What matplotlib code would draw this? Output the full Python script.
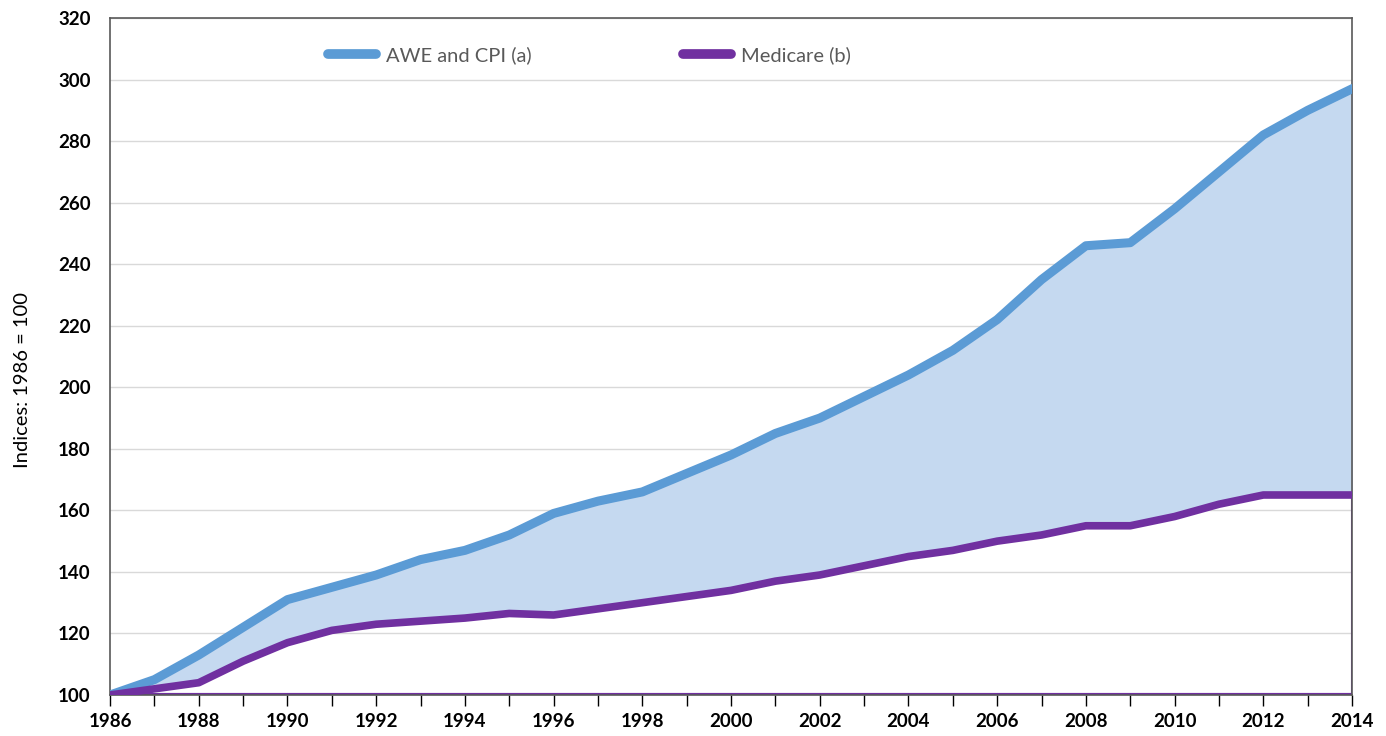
import numpy as np
import matplotlib.pyplot as plt
from matplotlib.ticker import MultipleLocator

plt.rcParams["font.family"] = ["Lato", "DejaVu Sans"]

# 数据
years = list(range(1986, 2015))
awe_cpi = [100, 105, 113, 122, 131, 135, 139, 144, 147, 152, 159, 163, 166, 172, 178,
           185, 190, 197, 204, 212, 222, 235, 246, 247, 258, 270, 282, 290, 297]
medicare = [100, 102, 104, 111, 117, 121, 123, 124, 125, 126.5, 126, 128, 130, 132, 134,
            137, 139, 142, 145, 147, 150, 152, 155, 155, 158, 162, 165, 165, 165]
y_ticks = list(range(100, 321, 20))
x_labels = list(range(1986, 2015, 2))

blue = "#5B9BD5"
purple = "#7030A0"

fig = plt.figure(figsize=(13.86, 7.36), dpi=100)
ax = fig.add_axes([0.0794, 0.0557, 0.8961, 0.9198])

# 面积填充
ax.fill_between(years, medicare, awe_cpi, color="#C5D9F0", zorder=1)

# 底部和右侧的细线
ax.plot([years[-1], years[-1], years[0]], [medicare[-1], 100, 100],
        color=purple, lw=1.5, zorder=2, solid_capstyle="butt")
ax.plot([years[0], years[-1]], [100, 100], color=purple, lw=3, zorder=2)

ax.plot(years, awe_cpi, color=blue, lw=6.5, label="AWE and CPI (a)", zorder=3,
        solid_joinstyle="round")
ax.plot(years, medicare, color=purple, lw=5.5, label="Medicare (b)", zorder=4,
        solid_joinstyle="round")

ax.set_xlim(1986, 2014)
ax.set_ylim(100, 320)
ax.set_yticks(y_ticks)
ax.set_xticks(x_labels)
ax.xaxis.set_minor_locator(MultipleLocator(1))
ax.grid(axis="y", color="#D9D9D9", lw=1)
ax.set_axisbelow(True)

ax.tick_params(axis="y", length=0, pad=14, labelsize=13.5)
ax.tick_params(axis="x", which="both", direction="out", length=8, width=1,
               color="black", pad=5, labelsize=13.5)
for lab in ax.get_xticklabels() + ax.get_yticklabels():
    lab.set_fontweight("bold")

for side in ["top", "right", "left", "bottom"]:
    ax.spines[side].set_color("#595959")
    ax.spines[side].set_linewidth(1.2)

ax.set_ylabel("Indices: 1986 = 100", fontsize=14.5)
ax.yaxis.set_label_coords(-0.064, 0.465)

leg = ax.legend(loc="center", bbox_to_anchor=(0.386, 0.945), ncol=2, frameon=False,
                fontsize=14.5, handlelength=2.4, columnspacing=7.5, handletextpad=0.5)
for t in leg.get_texts():
    t.set_color("#595959")
for h in leg.get_lines():
    h.set_linewidth(7)
    h.set_solid_capstyle("round")

fig.savefig("out.png", dpi=100)
